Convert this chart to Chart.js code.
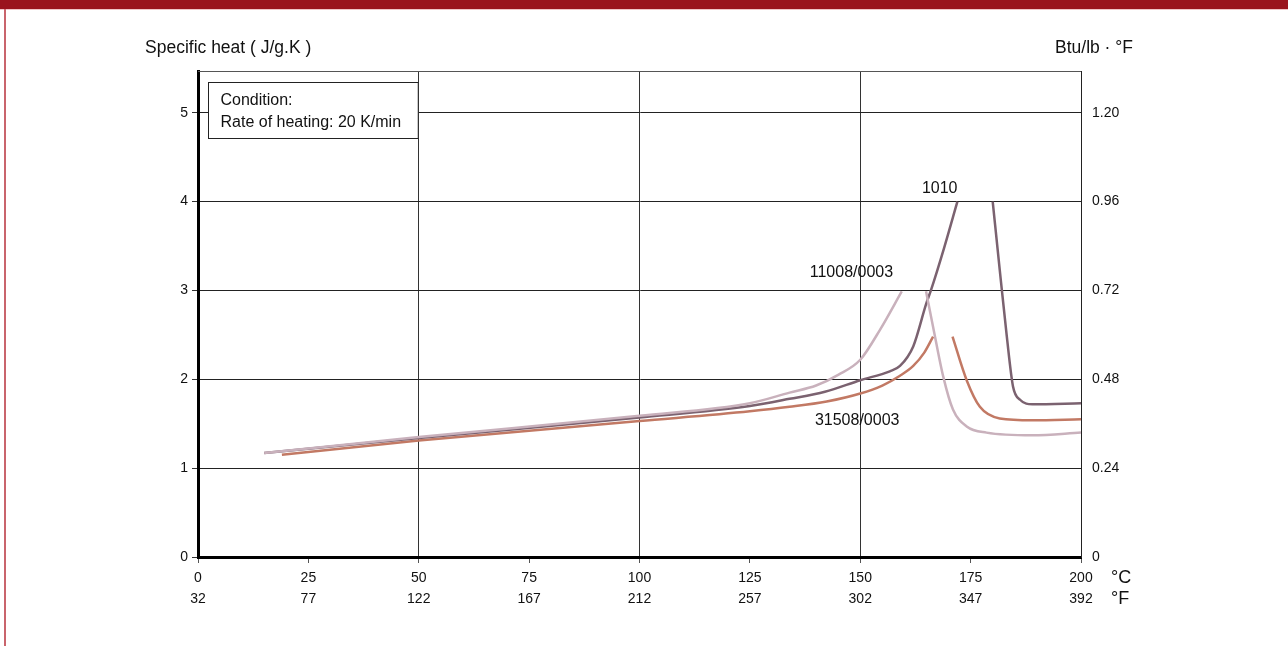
<!DOCTYPE html>
<html>
<head>
<meta charset="utf-8">
<script src="https://cdn.jsdelivr.net/npm/chart.js@4.4.0/dist/chart.umd.min.js"></script>
<style>
  body { margin: 0; background: #fff; }
  #wrap { position: relative; width: 1288px; height: 646px; overflow: hidden; }
  #topBar { position: absolute; left: 0; top: 0; width: 1288px; height: 9px; background: #9a141d; border-bottom: 1px solid #f0c4c6; }
  #leftBar { position: absolute; left: 4px; top: 9px; width: 2px; height: 637px; background: #c9646c; }
  #myChart { position: absolute; left: 0; top: 0; }
</style>
</head>
<body>
<div id="wrap">
  <div id="topBar"></div>
  <div id="leftBar"></div>
  <canvas id="myChart" width="1288" height="646"></canvas>
</div>
<script>
const ctx = document.getElementById('myChart');

// tick labels
const celsiusTicks = [0, 25, 50, 75, 100, 125, 150, 175, 200];
const fahrenheitTicks = [32, 77, 122, 167, 212, 257, 302, 347, 392];
const leftTicks = [0, 1, 2, 3, 4, 5];
const rightTicks = ['0', '0.24', '0.48', '0.72', '0.96', '1.20'];

// 1010 (null = off the top of the chart)
const temp1010 = [15, 50, 100, 125, 134, 142, 150, 156.7, 159, 162, 165, 166, 169, 172, 176, 180, 181.6, 183.2, 184.6, 186.2, 189, 200];
const heat1010 = [1.17, 1.34, 1.57, 1.70, 1.78, 1.86, 1.99, 2.09, 2.15, 2.37, 2.86, 3.0, 3.48, 4.0, null, 4.0, 3.23, 2.48, 1.92, 1.77, 1.72, 1.73];

// 11008/0003
const temp11008 = [15, 50, 100, 125, 134, 140, 145, 150, 154.5, 159.4, 162, 164.9, 166.5, 168.8, 171, 174.1, 178.6, 189, 200];
const heat11008 = [1.17, 1.35, 1.59, 1.73, 1.85, 1.93, 2.05, 2.22, 2.56, 2.99, null, 2.99, 2.59, 2.03, 1.66, 1.47, 1.40, 1.37, 1.40];

// 31508/0003
const temp31508 = [19, 50, 100, 125, 134, 142.4, 150, 155, 159, 162, 164.5, 166.5, 168.5, 170.9, 174.1, 177.1, 181.6, 189, 200];
const heat31508 = [1.15, 1.31, 1.53, 1.64, 1.69, 1.75, 1.84, 1.93, 2.04, 2.15, 2.30, 2.48, null, 2.48, 1.99, 1.69, 1.56, 1.54, 1.55];

const seriesNames = ['11008/0003', '1010', '31508/0003'];
const seriesColors = ['#c9b1bc', '#7b6270', '#c27964'];

const FONT = '"Liberation Sans", Arial, Helvetica, sans-serif';

function toPoints(xs, ys) {
  return xs.map((t, i) => ({ x: t, y: ys[i] }));
}

// text annotations, condition box, frame
const extrasPlugin = {
  id: 'extras',
  afterDraw(chart) {
    const c = chart.ctx;
    const area = chart.chartArea;
    const x = chart.scales.x;
    const y = chart.scales.y;
    c.save();

    // top frame line
    c.strokeStyle = '#555';
    c.lineWidth = 1;
    c.beginPath();
    c.moveTo(area.left, area.top + 0.5);
    c.lineTo(area.right, area.top + 0.5);
    c.stroke();

    // condition box
    const bx = area.left + 10.5;
    const by = area.top + 11.5;
    const bw = x.getPixelForValue(50) - bx - 0.5;
    c.fillStyle = '#fff';
    c.fillRect(bx, by, bw, 56);
    c.strokeStyle = '#222';
    c.strokeRect(bx, by, bw, 56);
    c.fillStyle = '#111';
    c.font = '16px ' + FONT;
    c.textAlign = 'left';
    c.textBaseline = 'middle';
    c.fillText('Condition:', bx + 12, by + 18);
    c.fillText('Rate of heating: 20 K/min', bx + 12, by + 40);

    // curve names
    c.font = '16px ' + FONT;
    c.textAlign = 'center';
    c.fillText('1010', x.getPixelForValue(168), y.getPixelForValue(4.15));
    c.fillText('11008/0003', x.getPixelForValue(148), y.getPixelForValue(3.2));
    c.fillText('31508/0003', x.getPixelForValue(149.3), y.getPixelForValue(1.54));

    // axis titles
    c.font = '17.5px ' + FONT;
    c.textAlign = 'left';
    c.fillText('Specific heat ( J/g.K )', 145, 48);
    c.textAlign = 'right';
    c.fillText('Btu/lb \u00b7 \u00b0F', 1133, 48);

    // unit labels under x axis
    c.font = '18px ' + FONT;
    c.textAlign = 'left';
    c.fillText('\u00b0C', 1111, 578);
    c.fillText('\u00b0F', 1111, 599);
    c.restore();
  }
};

new Chart(ctx, {
  type: 'line',
  data: {
    datasets: [
      { label: seriesNames[0], data: toPoints(temp11008, heat11008), borderColor: seriesColors[0] },
      { label: seriesNames[1], data: toPoints(temp1010, heat1010), borderColor: seriesColors[1] },
      { label: seriesNames[2], data: toPoints(temp31508, heat31508), borderColor: seriesColors[2] }
    ]
  },
  options: {
    responsive: false,
    animation: false,
    spanGaps: false,
    layout: { padding: { top: 71, left: 0, right: 0, bottom: 0 } },
    elements: {
      point: { radius: 0 },
      line: { borderWidth: 2.5, cubicInterpolationMode: 'monotone', fill: false }
    },
    plugins: {
      legend: { display: false },
      tooltip: { enabled: false }
    },
    scales: {
      x: {
        type: 'linear',
        position: 'bottom',
        min: 0,
        max: 200,
        afterFit: scale => { scale.height = 89; },
        ticks: {
          stepSize: 25,
          color: '#111',
          padding: 5,
          font: { family: FONT, size: 14, lineHeight: 1.5 },
          callback: value => {
            const i = celsiusTicks.indexOf(value);
            return i < 0 ? '' : [String(celsiusTicks[i]), String(fahrenheitTicks[i])];
          }
        },
        grid: {
          color: c => [50, 100, 150].includes(c.tick && c.tick.value) ? '#333' : 'rgba(0,0,0,0)',
          tickColor: '#555',
          tickLength: 6,
          lineWidth: 1
        },
        border: { color: '#000', width: 3 }
      },
      y: {
        position: 'left',
        min: 0,
        max: 5.47,
        afterFit: scale => { scale.width = 198; },
        ticks: {
          stepSize: 1,
          includeBounds: false,
          color: '#111',
          padding: 4,
          font: { family: FONT, size: 14 },
          callback: value => leftTicks.includes(value) ? String(value) : ''
        },
        grid: {
          color: c => (c.tick && c.tick.value > 0) ? '#222' : 'rgba(0,0,0,0)',
          tickColor: '#333',
          tickLength: 6,
          lineWidth: 1
        },
        border: { color: '#000', width: 3 }
      },
      y2: {
        position: 'right',
        min: 0,
        max: 5.47 * 0.24,
        afterFit: scale => { scale.width = 207; },
        ticks: {
          stepSize: 0.24,
          includeBounds: false,
          color: '#111',
          padding: 3,
          font: { family: FONT, size: 14 },
          callback: (value, index) => rightTicks[index] !== undefined ? rightTicks[index] : ''
        },
        grid: { display: false },
        border: { color: '#222', width: 1 }
      }
    }
  },
  plugins: [extrasPlugin]
});
</script>
</body>
</html>
